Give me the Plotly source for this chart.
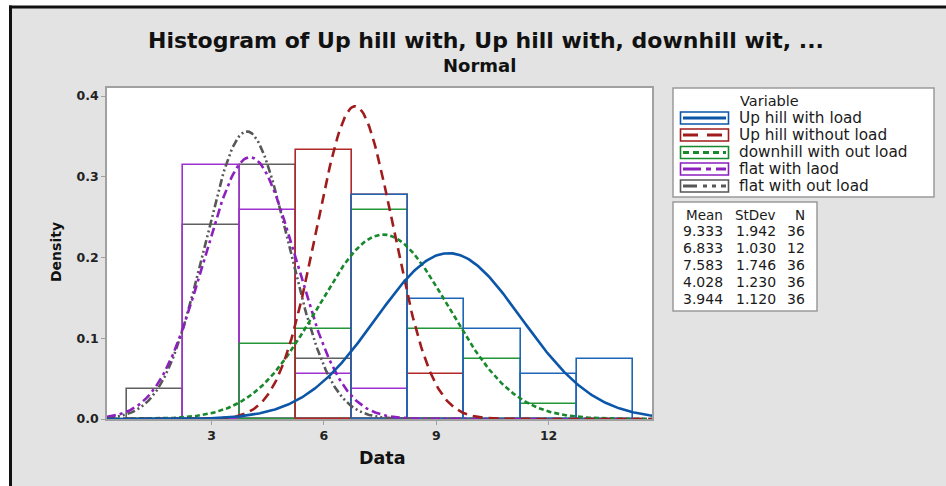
import numpy as np
import plotly.graph_objects as go

# ---------------- data ----------------
variables = ["Up hill with load", "Up hill without load", "downhill with out load",
             "flat with laod", "flat with out load"]
means = [9.333, 6.833, 7.583, 4.028, 3.944]
stdevs = [1.942, 1.030, 1.746, 1.230, 1.120]
ns = [36, 12, 36, 36, 36]

bin_width = 1.5
bin_centers = [1.5, 3.0, 4.5, 6.0, 7.5, 9.0, 10.5, 12.0, 13.5]
counts_uphill_load = [0, 0, 0, 0, 15, 8, 6, 3, 4]
counts_uphill_noload = [0, 0, 0, 6, 5, 1, 0, 0, 0]
counts_downhill = [0, 0, 5, 6, 14, 6, 4, 1, 0]
counts_flat_load = [0, 17, 14, 3, 2, 0, 0, 0, 0]
counts_flat_noload = [2, 13, 17, 4, 0, 0, 0, 0, 0]
all_counts = [counts_uphill_load, counts_uphill_noload, counts_downhill,
              counts_flat_load, counts_flat_noload]

x_ticks = [3, 6, 9, 12]
y_ticks = [0.0, 0.1, 0.2, 0.3, 0.4]
x_range = [0.21, 14.76]
y_range = [0, 0.41]

# ---------------- styles ----------------
curve_colors = ["#0b56a8", "#a01c1c", "#17892c", "#8c1fbe", "#575757"]
bar_colors = ["#1f66b8", "#b02828", "#239638", "#9d32cf", "#606060"]
dashes = ["solid", "10px,6px", "5px,3px", "9px,4px,3px,4px", "8px,3px,2px,3px,2px,3px"]
legend_dashes = ["solid", "15px,9px", "6px,4px", "18px,5px,5px,5px", "14px,6px,4px,5px,4px,5px"]

FONT = "DejaVu Sans"

fig = go.Figure()

# histograms (outlines only)
order = [4, 3, 2, 1, 0]
for i in order:
    dens = [c / (ns[i] * bin_width) for c in all_counts[i]]
    xs = [bc for bc, c in zip(bin_centers, all_counts[i]) if c > 0]
    ys = [d for d, c in zip(dens, all_counts[i]) if c > 0]
    fig.add_trace(go.Bar(
        x=xs, y=ys, width=bin_width,
        marker=dict(color="rgba(0,0,0,0)", line=dict(color=bar_colors[i], width=1.6)),
        showlegend=False, hoverinfo="skip"))

# fitted normal curves
xx = np.linspace(x_range[0], x_range[1], 400)
for i in order:
    m, s = means[i], stdevs[i]
    yy = np.exp(-0.5 * ((xx - m) / s) ** 2) / (s * np.sqrt(2 * np.pi))
    fig.add_trace(go.Scatter(
        x=xx, y=yy, mode="lines",
        line=dict(color=curve_colors[i], width=2.6, dash=dashes[i]),
        showlegend=False, hoverinfo="skip"))

# ---------------- layout geometry ----------------
W_FIG, H_FIG = 946, 486
L, R, T, B = 107, 652, 88, 419
PW, PH = R - L, B - T


def fx(px):
    return (px - L) / PW


def fy(py):
    return (B - py) / PH


shapes = []
annotations = []

# white outer strips and black frame
shapes.append(dict(type="rect", xref="paper", yref="paper", x0=fx(-5), x1=fx(W_FIG + 5),
                   y0=fy(6), y1=fy(-5), fillcolor="white", line=dict(width=0), layer="above"))
shapes.append(dict(type="rect", xref="paper", yref="paper", x0=fx(-5), x1=fx(9),
                   y0=fy(H_FIG + 5), y1=fy(-5), fillcolor="white", line=dict(width=0), layer="above"))
shapes.append(dict(type="line", xref="paper", yref="paper", x0=fx(10.5), x1=fx(10.5),
                   y0=fy(5.5), y1=fy(H_FIG + 5), line=dict(color="#111111", width=3), layer="above"))
shapes.append(dict(type="line", xref="paper", yref="paper", x0=fx(9), x1=fx(W_FIG + 5),
                   y0=fy(7), y1=fy(7), line=dict(color="#111111", width=3), layer="above"))

# legend box
shapes.append(dict(type="rect", xref="paper", yref="paper", x0=fx(673), x1=fx(934),
                   y0=fy(197), y1=fy(88), fillcolor="white",
                   line=dict(color="#9a9a9a", width=1.5), layer="above"))
annotations.append(dict(text="Variable", xref="paper", yref="paper", x=fx(738), y=fy(101),
                        xanchor="left", yanchor="middle", showarrow=False,
                        font=dict(family=FONT, size=14.5, color="#1a1a1a")))
row_y = [118, 135, 152.5, 169, 186]
for i, name in enumerate(variables):
    yc = row_y[i]
    shapes.append(dict(type="rect", xref="paper", yref="paper", x0=fx(680.5), x1=fx(728.5),
                       y0=fy(yc + 6), y1=fy(yc - 6), fillcolor="white",
                       line=dict(color=curve_colors[i], width=1.6), layer="above"))
    shapes.append(dict(type="line", xref="paper", yref="paper", x0=fx(683), x1=fx(726),
                       y0=fy(yc), y1=fy(yc),
                       line=dict(color=curve_colors[i], width=3, dash=legend_dashes[i]),
                       layer="above"))
    annotations.append(dict(text=name, xref="paper", yref="paper", x=fx(737), y=fy(yc - 0.5),
                            xanchor="left", yanchor="middle", showarrow=False,
                            font=dict(family=FONT, size=15.3, color="#1a1a1a")))

# stats table box
shapes.append(dict(type="rect", xref="paper", yref="paper", x0=fx(673), x1=fx(817),
                   y0=fy(311), y1=fy(202), fillcolor="white",
                   line=dict(color="#9a9a9a", width=1.5), layer="above"))
col_right = [725, 778, 807]
headers = ["Mean", "StDev", "N"]
for h, cx in zip(headers, col_right):
    annotations.append(dict(text=h, xref="paper", yref="paper", x=fx(cx), y=fy(215),
                            xanchor="right", yanchor="middle", showarrow=False,
                            font=dict(family=FONT, size=13.5, color="#1a1a1a")))
tab_y = [231, 248, 265, 282, 299]
for i in range(len(variables)):
    vals = [f"{means[i]:.3f}", f"{stdevs[i]:.3f}", f"{ns[i]}"]
    for v, cx in zip(vals, col_right):
        annotations.append(dict(text=v, xref="paper", yref="paper", x=fx(cx), y=fy(tab_y[i]),
                                xanchor="right", yanchor="middle", showarrow=False,
                                font=dict(family=FONT, size=14, color="#1a1a1a")))

# titles
annotations.append(dict(text="<b>Histogram of Up hill with, Up hill with, downhill wit, ...</b>",
                        xref="paper", yref="paper", x=fx(486), y=fy(40.5),
                        xanchor="center", yanchor="middle", showarrow=False,
                        font=dict(family=FONT, size=22, color="#111111")))
annotations.append(dict(text="<b>Normal</b>", xref="paper", yref="paper", x=fx(479), y=fy(65),
                        xanchor="center", yanchor="middle", showarrow=False,
                        font=dict(family=FONT, size=18, color="#111111")))
annotations.append(dict(text="<b>Data</b>", xref="paper", yref="paper", x=fx(382), y=fy(458),
                        xanchor="center", yanchor="middle", showarrow=False,
                        font=dict(family=FONT, size=17.5, color="#111111")))
annotations.append(dict(text="<b>Density</b>", xref="paper", yref="paper", x=fx(56), y=fy(252),
                        xanchor="center", yanchor="middle", showarrow=False, textangle=-90,
                        font=dict(family=FONT, size=14, color="#111111")))

fig.update_layout(
    width=W_FIG, height=H_FIG,
    margin=dict(l=L, r=W_FIG - R, t=T, b=H_FIG - B, pad=0),
    paper_bgcolor="#e3e3e3", plot_bgcolor="white",
    barmode="overlay", bargap=0,
    showlegend=False,
    shapes=shapes, annotations=annotations,
    xaxis=dict(range=x_range, tickvals=x_ticks, ticktext=[str(t) for t in x_ticks],
               showgrid=False, zeroline=False, showline=True, mirror=True,
               linecolor="#a0a0a0", linewidth=1.5, ticks="outside", ticklen=4,
               tickcolor="#a0a0a0",
               tickfont=dict(family=FONT, size=12.5, color="#222222", weight="bold")),
    yaxis=dict(range=y_range, tickvals=y_ticks, ticktext=[f"{t:.1f}" for t in y_ticks],
               showgrid=False, zeroline=False, showline=True, mirror=True,
               linecolor="#a0a0a0", linewidth=1.5, ticks="outside", ticklen=4,
               tickcolor="#a0a0a0",
               tickfont=dict(family=FONT, size=12.5, color="#222222", weight="bold")),
)

fig.write_html("out.html")
